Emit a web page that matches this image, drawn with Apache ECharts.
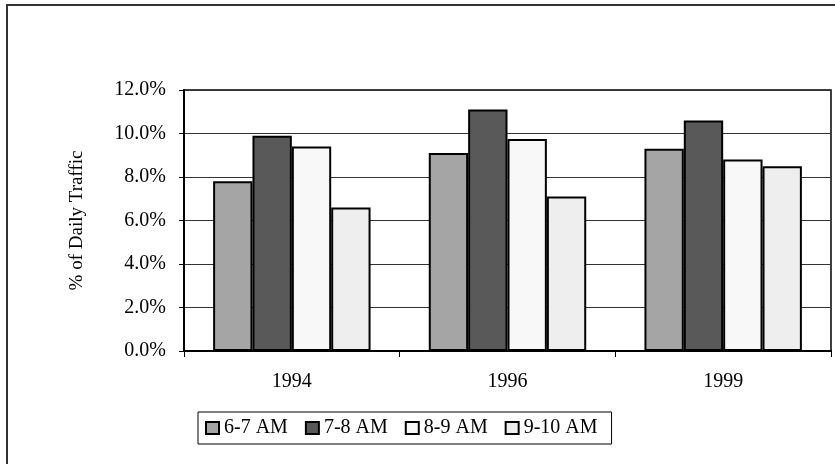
<!DOCTYPE html>
<html>
<head>
<meta charset="utf-8">
<script src="https://cdn.jsdelivr.net/npm/echarts@6/dist/echarts.min.js"></script>
<style>
  html, body { margin: 0; padding: 0; background: #fff; }
  #chart { width: 835px; height: 464px; }
</style>
</head>
<body>
<div id="chart"></div>
<script>
// Share of daily traffic by morning hour, per survey year
const years = ['1994', '1996', '1999'];
const hourNames = ['6-7 AM', '7-8 AM', '8-9 AM', '9-10 AM'];
const h6to7 = [7.8, 9.1, 9.3];
const h7to8 = [9.9, 11.1, 10.6];
const h8to9 = [9.4, 9.75, 8.8];
const h9to10 = [6.6, 7.1, 8.5];
const yTicks = [0, 2, 4, 6, 8, 10, 12];

const fills = ['#a5a5a5', '#595959', '#f8f8f8', '#eeeeee'];
const seriesValues = [h6to7, h7to8, h8to9, h9to10];
const font = '"Liberation Serif", "Times New Roman", serif';

const chart = echarts.init(document.getElementById('chart'), null, { renderer: 'canvas' });

chart.setOption({
  animation: false,
  backgroundColor: '#fff',
  textStyle: { fontFamily: font, color: '#000' },
  grid: { left: 184, right: 4, top: 90, bottom: 113, show: true, borderColor: '#000', borderWidth: 1.5 },
  graphic: [
    {
      type: 'rect',
      shape: { x: 7, y: 5, width: 860, height: 500 },
      style: { fill: 'none', stroke: '#333', lineWidth: 2 },
      silent: true
    }
  ],
  legend: {
    data: hourNames,
    left: 198,
    top: 412,
    orient: 'horizontal',
    itemWidth: 13,
    itemHeight: 12,
    itemGap: 17,
    padding: [6, 14, 6, 7],
    borderColor: '#000',
    borderWidth: 1,
    icon: 'rect',
    itemStyle: { borderColor: '#000', borderWidth: 2 },
    textStyle: { fontFamily: font, fontSize: 20, color: '#000', padding: [3, 0, 0, 0] }
  },
  xAxis: {
    type: 'category',
    data: years,
    axisLine: { lineStyle: { color: '#000', width: 2 } },
    axisTick: { show: true, length: 6, lineStyle: { color: '#000', width: 1 } },
    axisLabel: { fontFamily: font, fontSize: 20, color: '#000', margin: 21 },
    splitLine: { show: false }
  },
  yAxis: {
    type: 'value',
    min: yTicks[0],
    max: yTicks[yTicks.length - 1],
    interval: 2,
    name: '% of Daily Traffic',
    nameLocation: 'middle',
    nameGap: 97,
    nameRotate: 90,
    nameTextStyle: { fontFamily: font, fontSize: 19, color: '#000' },
    axisLine: { show: true, lineStyle: { color: '#000', width: 2 } },
    axisTick: { show: true, inside: false, length: 5, lineStyle: { color: '#000', width: 1 } },
    axisLabel: {
      fontFamily: font, fontSize: 20, color: '#000', margin: 18,
      formatter: v => v.toFixed(1) + '%'
    },
    splitLine: { show: true, lineStyle: { color: '#333', width: 1.2 } }
  },
  series: seriesValues.map((vals, i) => ({
    name: hourNames[i],
    type: 'bar',
    data: vals,
    barGap: '0%',
    barCategoryGap: '27%',
    itemStyle: { color: fills[i], borderColor: '#000', borderWidth: 2 }
  }))
});
</script>
</body>
</html>
